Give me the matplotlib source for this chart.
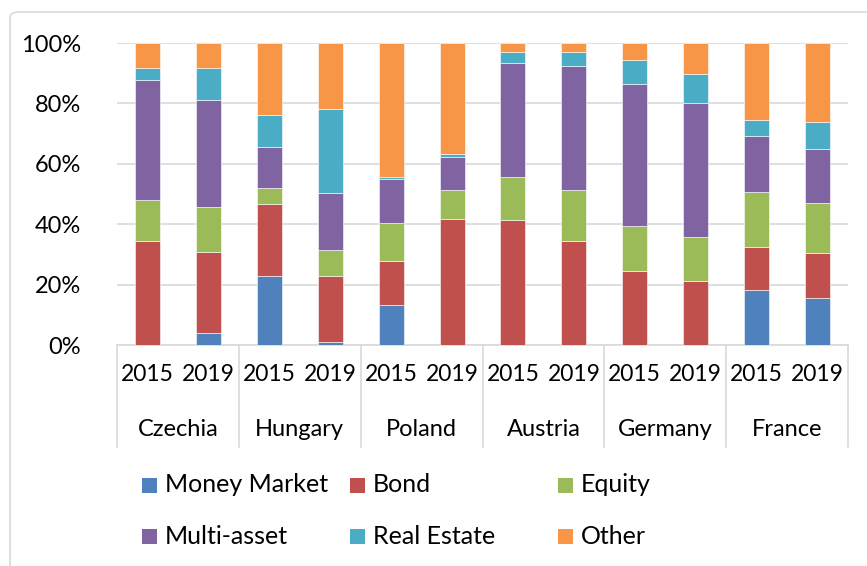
import matplotlib
matplotlib.use('Agg')
import matplotlib.pyplot as plt
from matplotlib.patches import Rectangle, FancyBboxPatch
from matplotlib.lines import Line2D
import numpy as np

# fund type shares (%) per country, 2015 and 2019
countries = ['Czechia', 'Hungary', 'Poland', 'Austria', 'Germany', 'France']
years = ['2015', '2019']

money_market = [0.0, 4.1, 23.0, 0.9, 13.1, 0.0, 0.0, 0.0, 0.0, 0.0, 18.3, 15.6]
bond = [34.5, 26.8, 23.6, 22.1, 14.6, 41.8, 41.3, 34.5, 24.6, 21.3, 14.0, 14.7]
equity = [13.6, 14.7, 5.4, 8.5, 12.6, 9.5, 14.2, 16.8, 14.7, 14.3, 18.5, 16.8]
multi_asset = [39.5, 35.6, 13.5, 18.7, 14.7, 11.1, 37.9, 41.1, 47.2, 44.6, 18.3, 17.8]
real_estate = [4.1, 10.5, 10.5, 27.9, 0.6, 1.0, 3.6, 4.6, 8.0, 9.5, 5.3, 9.0]
other = [8.3, 8.3, 24.0, 21.9, 44.4, 36.6, 3.0, 3.0, 5.5, 10.3, 25.6, 26.1]

series_names = ['Money Market', 'Bond', 'Equity', 'Multi-asset', 'Real Estate', 'Other']
series_vals = [money_market, bond, equity, multi_asset, real_estate, other]
colors = ['#4F81BD', '#C0504D', '#9BBB59', '#8064A2', '#4BACC6', '#F79646']

plt.rcParams['font.family'] = ['Lato', 'DejaVu Sans']
FS = 16.5
FS_LEG = 18

W, H = 867, 566
fig = plt.figure(figsize=(W / 100, H / 100), dpi=100)
ax = fig.add_axes([117 / W, (H - 345) / H, (848 - 117) / W, (345 - 43) / H])

n = len(countries) * len(years)
x = np.arange(n)
bottom = np.zeros(n)
for name, vals, c in zip(series_names, series_vals, colors):
    v = np.array(vals)
    ax.bar(x, v, width=0.41, bottom=bottom, color=c, edgecolor='white', linewidth=0.4, zorder=3)
    bottom += v

ax.set_xlim(-0.5, n - 0.5)
ax.set_ylim(0, 100)
ax.set_yticks(np.arange(0, 101, 20))
ax.set_yticklabels([f'{t}%' for t in range(0, 101, 20)], fontsize=FS + 0.5)
ax.tick_params(axis='y', length=0, pad=26)
ax.yaxis.grid(True, color='#D9D9D9', linewidth=1.2, zorder=0)
for s in ['left', 'right', 'top']:
    ax.spines[s].set_visible(False)
ax.spines['bottom'].set_color('#D9D9D9')
ax.spines['bottom'].set_linewidth(1.2)

# two-level category axis
ax.set_xticks(x)
ax.set_xticklabels(years * len(countries), fontsize=FS)
ax.tick_params(axis='x', length=0, pad=14)
trans = ax.get_xaxis_transform()
for i, cname in enumerate(countries):
    ax.text(2 * i + 0.5, -0.281, cname, transform=trans, ha='center', va='center', fontsize=FS + 0.5)
for k in range(len(countries) + 1):
    ax.add_line(Line2D([2 * k - 0.5, 2 * k - 0.5], [0, -0.338], transform=trans,
                       color='#D9D9D9', linewidth=1.2, clip_on=False))

# chart area border
fig.add_artist(FancyBboxPatch((10 / W, -0.1), 1.2, (H - 12) / H + 0.1,
                              boxstyle='round,pad=0,rounding_size=0.01',
                              transform=fig.transFigure, facecolor='none',
                              edgecolor='#D9D9D9', linewidth=1.2))

# legend
col_x = [142, 350, 558]
row_y = [485, 536]
sq = 15
for i, (name, c) in enumerate(zip(series_names, colors)):
    px = col_x[i % 3]
    py = row_y[i // 3]
    fig.add_artist(Rectangle((px / W, (H - py - sq / 2) / H), sq / W, sq / H,
                             transform=fig.transFigure, facecolor=c, edgecolor='none'))
    fig.text((px + 23) / W, (H - py) / H, name, ha='left', va='center', fontsize=FS_LEG)

fig.savefig('out.png', dpi=100)
